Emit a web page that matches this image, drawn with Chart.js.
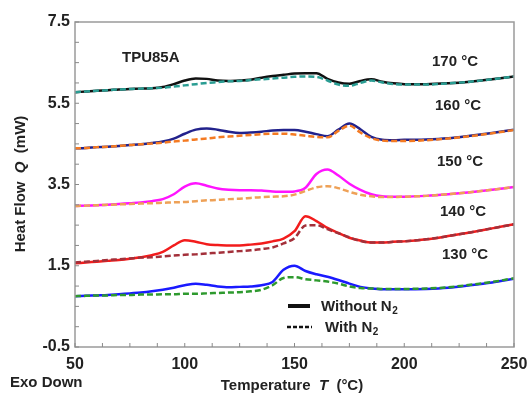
<!DOCTYPE html>
<html>
<head>
<meta charset="utf-8">
<script src="https://cdn.jsdelivr.net/npm/chart.js@4"></script>
<style>
  html, body { margin: 0; padding: 0; background: #fff; }
  #chart { display: block; }
</style>
</head>
<body>
<canvas id="chart" width="527" height="395"></canvas>
<script>
// temperature axis (°C)
const temps = [50,55,60,65,70,75,80,85,90,95,100,105,110,115,120,125,130,135,140,145,
               150,155,160,165,170,175,180,185,190,195,200,210,220,230,240,250];

// heat flow (mW), solid = without N2, dashed = with N2
const q170 = [5.77,5.79,5.81,5.82,5.84,5.85,5.86,5.87,5.90,5.97,
              6.06,6.11,6.10,6.06,6.05,6.06,6.08,6.13,6.17,6.20,
              6.23,6.24,6.24,6.10,6.01,5.98,6.05,6.09,6.03,5.99,
              5.97,5.97,5.99,6.03,6.09,6.16];
const q170n = [5.77,5.79,5.81,5.82,5.84,5.85,5.86,5.87,5.88,5.91,
               5.94,5.97,6.00,6.02,6.04,6.05,6.07,6.09,6.11,6.13,
               6.15,6.16,6.15,6.06,5.96,5.93,6.00,6.06,6.01,5.97,
               5.96,5.96,5.99,6.03,6.09,6.16];
const q160 = [4.39,4.40,4.42,4.43,4.45,4.47,4.49,4.52,4.56,4.63,
              4.75,4.85,4.88,4.85,4.80,4.77,4.78,4.80,4.83,4.84,
              4.84,4.80,4.74,4.69,4.85,5.00,4.86,4.67,4.60,4.59,
              4.60,4.61,4.64,4.70,4.77,4.85];
const q160n = [4.39,4.40,4.42,4.43,4.45,4.47,4.49,4.51,4.53,4.56,
               4.58,4.61,4.63,4.66,4.68,4.70,4.72,4.74,4.75,4.75,
               4.73,4.70,4.67,4.66,4.82,4.95,4.78,4.64,4.58,4.57,
               4.57,4.59,4.63,4.69,4.76,4.84];
const q150 = [2.97,2.98,2.99,3.00,3.02,3.04,3.06,3.09,3.14,3.26,
              3.45,3.53,3.47,3.40,3.37,3.36,3.36,3.35,3.33,3.32,
              3.33,3.42,3.76,3.87,3.72,3.52,3.37,3.26,3.21,3.20,
              3.20,3.22,3.26,3.31,3.37,3.44];
const q150n = [2.97,2.98,2.99,3.00,3.01,3.02,3.03,3.04,3.05,3.06,
               3.07,3.09,3.11,3.12,3.14,3.15,3.17,3.19,3.20,3.21,
               3.25,3.34,3.43,3.46,3.41,3.32,3.25,3.21,3.19,3.19,
               3.20,3.22,3.26,3.31,3.37,3.44];
const q140 = [1.56,1.58,1.60,1.62,1.64,1.67,1.71,1.76,1.84,2.00,
              2.13,2.09,2.03,2.01,2.00,2.00,2.02,2.05,2.10,2.17,
              2.35,2.72,2.60,2.43,2.31,2.19,2.12,2.07,2.07,2.09,
              2.10,2.15,2.23,2.32,2.42,2.52];
const q140n = [1.58,1.60,1.62,1.64,1.66,1.68,1.70,1.71,1.73,1.75,
               1.77,1.78,1.80,1.82,1.84,1.86,1.88,1.91,1.95,2.05,
               2.18,2.49,2.50,2.40,2.30,2.20,2.11,2.07,2.07,2.09,
               2.10,2.15,2.23,2.32,2.42,2.52];
const q130 = [0.75,0.76,0.77,0.78,0.80,0.82,0.84,0.87,0.91,0.96,
              1.02,1.06,1.03,0.99,0.97,0.98,0.99,1.02,1.10,1.40,
              1.50,1.37,1.29,1.23,1.15,1.06,0.98,0.94,0.92,0.92,
              0.92,0.93,0.96,1.02,1.09,1.18];
const q130n = [0.75,0.76,0.77,0.77,0.78,0.78,0.79,0.79,0.80,0.80,
               0.81,0.81,0.82,0.83,0.84,0.85,0.87,0.91,1.02,1.20,
               1.22,1.17,1.14,1.11,1.06,0.99,0.95,0.94,0.93,0.93,
               0.93,0.94,0.97,1.03,1.10,1.19];

const curveLabels = ['170 °C', '160 °C', '150 °C', '140 °C', '130 °C'];
const xTickLabels = [50, 100, 150, 200, 250];
const yTickLabels = [-0.5, 1.5, 3.5, 5.5, 7.5];

const FONT = '"Liberation Sans", Arial, sans-serif';

function pts(arr) {
    return arr.map((v, i) => ({ x: temps[i], y: v }));
}

function line(data, color, dashed) {
    return {
        data: pts(data),
        borderColor: color,
        borderWidth: 2.5,
        borderDash: dashed ? [6, 3] : [],
        pointRadius: 0,
        cubicInterpolationMode: 'monotone',
        fill: false,
        order: dashed ? 1 : 2
    };
}

// no extra padding from tick labels, keep the plot box fixed
function noPad(s) {
    s.paddingLeft = 0; s.paddingRight = 0;
    s.paddingTop = 0; s.paddingBottom = 0;
}

// ---- texts, box, inward ticks, legend ----
const decor = {
    id: 'decor',
    afterDraw(chart) {
        const ctx = chart.ctx;
        const a = chart.chartArea;
        const xs = chart.scales.x, ys = chart.scales.y;
        ctx.save();

        // frame
        ctx.strokeStyle = '#9a9a9a';
        ctx.lineWidth = 1.5;
        ctx.strokeRect(a.left, a.top, a.right - a.left, a.bottom - a.top);

        // inward ticks
        ctx.lineWidth = 1;
        ctx.strokeStyle = '#8a8a8a';
        ctx.beginPath();
        for (let v = -0.5; v <= 7.5; v += 0.5) {
            const y = ys.getPixelForValue(v);
            ctx.moveTo(a.left, y); ctx.lineTo(a.left + 4, y);
        }
        for (let v = 50; v <= 250; v += 12.5) {
            const x = xs.getPixelForValue(v);
            ctx.moveTo(x, a.bottom); ctx.lineTo(x, a.bottom - 4);
        }
        ctx.stroke();

        ctx.fillStyle = '#222';
        ctx.textBaseline = 'middle';
        ctx.textAlign = 'left';
        ctx.font = 'bold 15px ' + FONT;
        ctx.fillText('TPU85A', 122, 58);

        // curve labels
        const labelPos = [[432, 62], [435, 106], [437, 162], [440, 212], [442, 255]];
        curveLabels.forEach((t, i) => ctx.fillText(t, labelPos[i][0], labelPos[i][1]));

        ctx.fillText('Exo Down', 10, 383);

        // x title with italic T
        const parts = [['Temperature  ', 'bold'], ['T', 'italic bold'], ['  (°C)', 'bold']];
        let w = 0;
        parts.forEach(p => { ctx.font = p[1] + ' 15px ' + FONT; w += ctx.measureText(p[0]).width; });
        let x = 292 - w / 2;
        parts.forEach(p => {
            ctx.font = p[1] + ' 15px ' + FONT;
            ctx.fillText(p[0], x, 386);
            x += ctx.measureText(p[0]).width;
        });

        // y title with italic Q
        ctx.save();
        ctx.translate(21, 184);
        ctx.rotate(-Math.PI / 2);
        const yparts = [['Heat Flow  ', 'bold'], ['Q', 'italic bold'], ['  (mW)', 'bold']];
        w = 0;
        yparts.forEach(p => { ctx.font = p[1] + ' 15px ' + FONT; w += ctx.measureText(p[0]).width; });
        x = -w / 2;
        yparts.forEach(p => {
            ctx.font = p[1] + ' 15px ' + FONT;
            ctx.fillText(p[0], x, 0);
            x += ctx.measureText(p[0]).width;
        });
        ctx.restore();

        // legend
        ctx.strokeStyle = '#111';
        ctx.lineWidth = 4;
        ctx.beginPath(); ctx.moveTo(288, 306); ctx.lineTo(310, 306); ctx.stroke();
        ctx.lineWidth = 2.5;
        ctx.setLineDash([4, 2]);
        ctx.beginPath(); ctx.moveTo(287, 327); ctx.lineTo(312, 327); ctx.stroke();
        ctx.setLineDash([]);

        const sub = (txt, x0, y0) => {
            ctx.font = 'bold 15px ' + FONT;
            ctx.fillText(txt, x0, y0);
            const tw = ctx.measureText(txt).width;
            ctx.font = 'bold 10px ' + FONT;
            ctx.fillText('2', x0 + tw + 0.5, y0 + 4);
        };
        sub('Without N', 321, 307);
        sub('With N', 325, 328);

        ctx.restore();
    }
};

new Chart(document.getElementById('chart'), {
    type: 'line',
    data: {
        datasets: [
            line(q170, '#111111', false),
            line(q170n, '#2a9d93', true),
            line(q160, '#22228c', false),
            line(q160n, '#f47a22', true),
            line(q150, '#ff14ff', false),
            line(q150n, '#eea157', true),
            line(q140, '#f21c1c', false),
            line(q140n, '#a3303a', true),
            line(q130, '#1a1aff', false),
            line(q130n, '#2e9a2e', true)
        ]
    },
    options: {
        responsive: false,
        animation: false,
        devicePixelRatio: 1,
        layout: { padding: { top: 22, right: 13, left: 0, bottom: 0 } },
        plugins: { legend: { display: false }, tooltip: { enabled: false } },
        scales: {
            x: {
                type: 'linear',
                min: 50, max: 250,
                grid: { display: false, drawTicks: false },
                border: { display: false },
                ticks: {
                    stepSize: 12.5,
                    autoSkip: false,
                    maxRotation: 0,
                    padding: 8,
                    color: '#222',
                    font: { family: FONT, size: 16, weight: 'bold' },
                    callback: v => xTickLabels.includes(v) ? String(v) : ''
                },
                afterFit: s => { s.height = 48; noPad(s); }
            },
            y: {
                min: -0.5, max: 7.5,
                grid: { display: false, drawTicks: false },
                border: { display: false },
                ticks: {
                    stepSize: 0.5,
                    autoSkip: false,
                    padding: 5,
                    color: '#222',
                    font: { family: FONT, size: 16, weight: 'bold' },
                    callback: v => yTickLabels.some(t => Math.abs(t - v) < 1e-6) ? v.toFixed(1) : ''
                },
                afterFit: s => { s.width = 75; noPad(s); }
            }
        }
    },
    plugins: [decor]
});
</script>
</body>
</html>
